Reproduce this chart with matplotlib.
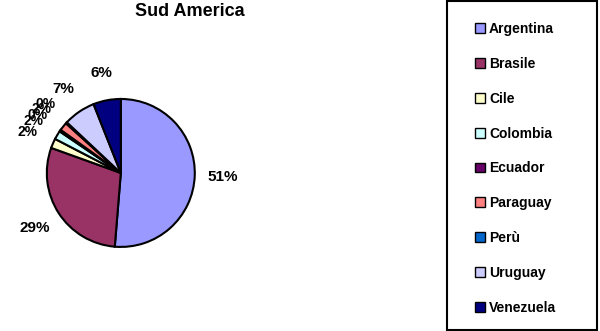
import matplotlib.pyplot as plt
from matplotlib.patches import Patch, Rectangle

plt.rcParams['font.family'] = ['Liberation Sans', 'DejaVu Sans']

# --- data ---
title = 'Sud America'
countries = ['Argentina', 'Brasile', 'Cile', 'Colombia', 'Ecuador',
             'Paraguay', 'Perù', 'Uruguay', 'Venezuela']
shares = [51.3, 29.2, 2.1, 1.9, 0.4, 1.8, 0.3, 7.0, 6.0]
colors = ['#9999FF', '#993366', '#FFFFCC', '#CCFFFF', '#660066',
          '#FF8080', '#0066CC', '#CCCCFF', '#000080']


def main():
    W, H = 600, 331
    fig = plt.figure(figsize=(6, 3.31), dpi=100)
    fig.text(190 / W, 1 - 12 / H, title, ha='center', va='center',
             fontsize=13, fontweight='bold')

    ax = fig.add_axes([0.078, 0.254, 0.2467, 0.447])
    wedges, texts, autotexts = ax.pie(
        shares, colors=colors, startangle=90, counterclock=False,
        autopct='%1.0f%%', pctdistance=1.38,
        wedgeprops=dict(edgecolor='black', linewidth=1.5),
        textprops=dict(fontsize=11, fontweight='bold'))
    # the tiny slices crowd together on the left, as in the original
    for t in autotexts[2:7]:
        t.set_fontsize(10)
    ax.set_xlim(-1, 1)
    ax.set_ylim(-1, 1)
    ax.set_aspect('equal')

    # legend box
    fig.patches.append(Rectangle((447 / W, 1 / H), 150 / W, 329 / H,
                                 transform=fig.transFigure, facecolor='white',
                                 edgecolor='black', linewidth=1.5, zorder=0))
    handles = [Patch(facecolor=c, edgecolor='black', linewidth=1.0, label=n)
               for n, c in zip(countries, colors)]
    fig.legend(handles=handles, loc='upper left',
               bbox_to_anchor=(475 / W, 1 - 22 / H),
               frameon=False, prop=dict(size=10, weight='bold'),
               handlelength=0.7, handleheight=0.7, handletextpad=0.3,
               labelspacing=1.5, borderpad=0, borderaxespad=0)

    fig.savefig('out.png', dpi=100)


if __name__ == '__main__':
    main()
